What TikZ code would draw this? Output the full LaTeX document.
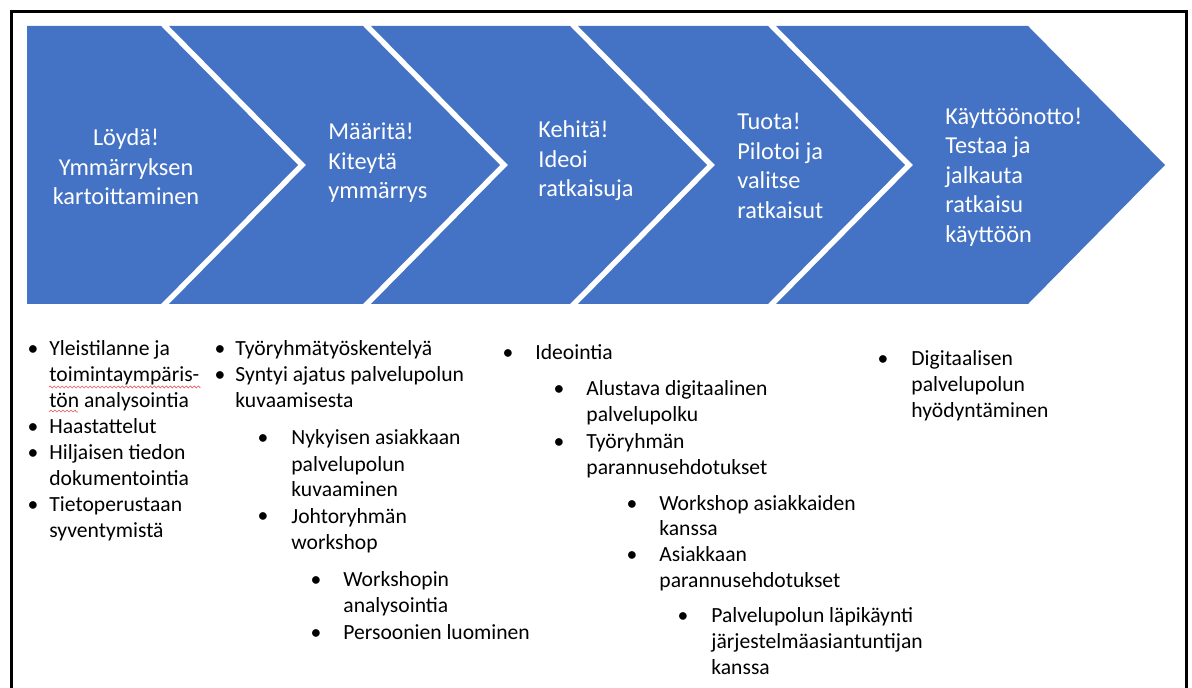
\documentclass[tikz,border=0pt]{standalone}
\usepackage{fontspec}
\setmainfont{Carlito}
\usepackage{tikz}
\usetikzlibrary{positioning, decorations.pathmorphing}
\usepackage{xcolor}
\definecolor{chevblue}{RGB}{68, 114, 196}
\definecolor{spellred}{RGB}{232, 86, 86}

\begin{document}
\begin{tikzpicture}[
  x=0.5pt, y=-0.5pt,
  chevtext/.style={text=white, inner sep=0pt, anchor=west, align=left,
    font=\fontsize{12.15}{14.75}\selectfont},
  item/.style={inner sep=0pt, anchor=base west, align=left,
    font=\fontsize{10.8}{13}\selectfont},
  dot/.style={inner sep=0pt, anchor=base, font=\fontsize{10.8}{13}\selectfont}
]
  \useasboundingbox (0,0) rectangle (1192,688);
  \draw[line width=1.5pt] (11,12) rectangle (1186,720);

  % chevrons
  \foreach \l/\r/\n in {27/161/0, 169/363/137, 371/570/137, 578/768/137, 776/1028/137}
    \fill[chevblue] (\l,26) -- (\r,26) -- (\r+137,165) -- (\r,304) -- (\l,304) -- (\l+\n,165) -- cycle;

  \node[chevtext, anchor=center, align=center] (find) at (126,167) {Löydä!\\Ymmärryksen\\kartoittaminen};
  \node[chevtext] (define)  at (328,163) {Määritä!\\Kiteytä\\ymmärrys};
  \node[chevtext] (develop) at (538,161) {Kehitä!\\Ideoi\\ratkaisuja};
  \node[chevtext] (produce) at (737,166) {Tuota!\\Pilotoi ja\\valitse\\ratkaisut};
  \node[chevtext] (deploy)  at (945,177) {Käyttöönotto!\\Testaa ja\\jalkauta\\ratkaisu\\käyttöön};

  % column 1 (node base = last line)
  \node[item] (a1) at (49,408) {Yleistilanne ja\\toimintaympäris-\\tön analysointia};
  \node[item] (a2) at (49,434) {Haastattelut};
  \node[item] (a3) at (49,486) {Hiljaisen tiedon\\dokumentointia};
  \node[item] (a4) at (49,538) {Tietoperustaan\\syventymistä};
  \foreach \y in {356,434,460,512}
    \node[dot] at (33,\y) {\textbullet};
  \draw[spellred, line width=0.35pt, decorate, decoration={snake, amplitude=0.5pt, segment length=2pt}]
    (49,387) -- (200,387) (49,412) -- (78,412);

  % column 2
  \node[item] (b1) at (235,356) {Työryhmätyöskentelyä};
  \node[item] (b2) at (235,408) {Syntyi ajatus palvelupolun\\kuvaamisesta};
  \foreach \y in {356,382}
    \node[dot] at (220,\y) {\textbullet};
  \node[item] (b3) at (291,497) {Nykyisen asiakkaan\\palvelupolun\\kuvaaminen};
  \node[item] (b4) at (291,549) {Johtoryhmän\\workshop};
  \foreach \y in {445,523}
    \node[dot] at (263,\y) {\textbullet};
  \node[item] (b5) at (343,612) {Workshopin\\analysointia};
  \node[item] (b6) at (343,639) {Persoonien luominen};
  \foreach \y in {586,639}
    \node[dot] at (316,\y) {\textbullet};

  % column 3
  \node[item] (c1) at (535,360) {Ideointia};
  \node[dot] at (508,360) {\textbullet};
  \node[item] (c2) at (586,422) {Alustava digitaalinen\\palvelupolku};
  \node[item] (c3) at (586,475) {Työryhmän\\parannusehdotukset};
  \foreach \y in {396,449}
    \node[dot] at (559,\y) {\textbullet};
  \node[item] (c4) at (659,536) {Workshop asiakkaiden\\kanssa};
  \node[item] (c5) at (659,587) {Asiakkaan\\parannusehdotukset};
  \foreach \y in {510,561}
    \node[dot] at (632,\y) {\textbullet};
  \node[item] (c6) at (711,674) {Palvelupolun läpikäynti\\järjestelmäasiantuntijan\\kanssa};
  \node[dot] at (683,622) {\textbullet};

  % column 4
  \node[item] (d1) at (911,418) {Digitaalisen\\palvelupolun\\hyödyntäminen};
  \node[dot] at (883,366) {\textbullet};
\end{tikzpicture}
\end{document}
